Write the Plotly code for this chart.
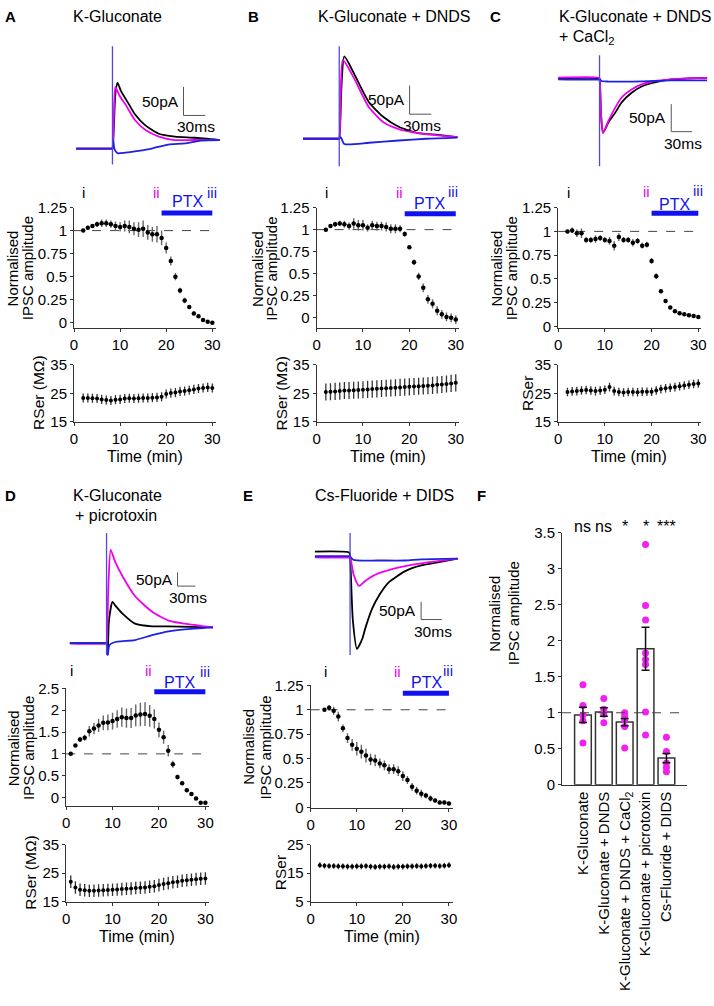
import plotly.graph_objects as go

# ====================== DATA ======================
# Example IPSC traces: time (ms, relative to stimulus) and current (pA)
A_black_t = [-50, -1, 0, 2, 4, 7, 12, 23, 31, 45, 64, 86, 113, 148]
A_black_i = [0, 0, 0, 40, 95, 115, 100, 77, 60, 41, 26, 21, 19, 15]
A_mag_t = [-50, -1, 0, 2, 4, 10, 18, 31, 45, 64, 86, 113, 148]
A_mag_i = [0, 0, 0, 60, 108, 92, 77, 50, 33, 21, 15, 15, 15]
A_blue_t = [-50, -1, 0, 1, 3, 7, 18, 31, 54, 77, 100, 122, 148]
A_blue_i = [0, 0, 0, 15, -2, -8, -7, -5, 0, 7, 9, 14, 15]
A_stim = [-28, 179]

B_black_t = [-50, -1, 0, 3, 7, 20, 41, 61, 82, 109, 136, 163]
B_black_i = [0, 0, 0, 90, 144, 115, 64, 38, 21, 10, 7, 3]
B_mag_t = [-50, -1, 0, 2, 5, 20, 41, 61, 82, 109, 136, 163]
B_mag_i = [0, 0, 0, 80, 138, 107, 55, 29, 17, 10, 6, 3]
B_blue_t = [-50, -1, 0, 2, 7, 41, 82, 120, 163]
B_blue_i = [0, 0, 0, 3, -9, -7, -3, 0, 2]
B_stim = [-48, 162]

C_black_t = [-60, -1, 0, 2, 5, 13, 23, 32, 47, 61, 80, 104, 128, 156]
C_black_i = [1, 1, 0, -60, -98, -79, -61, -43, -25, -14, -6.5, -1, 0.6, 1.8]
C_mag_t = [-60, -1, 0, 2, 5, 13, 23, 32, 47, 61, 80, 104, 128, 156]
C_mag_i = [2, 2, 0, -60, -98, -76, -52, -34, -19, -10, -4, -1, 0.6, 1.8]
C_blue_t = [-60, -1, 0, 3, 13, 47, 80, 104, 156]
C_blue_i = [-1, -1, 0, -4, -5, -5, -4, -3, -3]
C_stim = [-159, 43]

D_black_t = [-62, -1, 0, 2, 4, 10, 15, 27, 48, 77, 105, 180]
D_black_i = [0, 0, 0, -43, 80, 150, 136, 107, 71, 61, 61, 57]
D_mag_t = [-62, -1, 0, 3, 7, 15, 27, 48, 77, 105, 132, 180]
D_mag_i = [-2, -2, 0, 200, 339, 293, 243, 171, 114, 82, 71, 57]
D_blue_t = [-62, -1, 0, 2, 5, 15, 27, 48, 77, 105, 132, 180]
D_blue_i = [0, 0, 0, -43, -7, 4, 7, 11, 29, 43, 50, 57]
D_stim = [-43, 400]

E_black_t = [-51, -1, 0, 4, 10, 18, 22, 32, 42, 56, 80, 103, 127, 156]
E_black_i = [14, 11, 0, -180, -261, -231, -203, -147, -110, -73, -41, -25, -16, -6]
E_mag_t = [-51, -1, 0, 5, 13, 22, 32, 42, 56, 80, 103, 127, 156]
E_mag_i = [-2, -2, 0, -50, -83, -69, -56, -47, -38, -27, -19, -13, -6]
E_blue_t = [-51, -1, 0, 4, 10, 40, 80, 103, 156]
E_blue_i = [1, 1, 0, -8, -11, -11, -11, -8, -6]
E_stim = [-278, 67]

# Normalised IPSC amplitude time courses (min)
A_time = list(range(2, 31))
A_norm = [1.00, 1.03, 1.05, 1.07, 1.08, 1.08, 1.07, 1.05, 1.04, 1.05, 1.04, 1.02, 1.01, 1.02, 0.98,
          0.96, 0.96, 0.92, 0.81, 0.67, 0.50, 0.35, 0.24, 0.17, 0.10, 0.07, 0.03, 0.01, 0.00]
A_norm_err = [0.00, 0.02, 0.02, 0.03, 0.04, 0.04, 0.04, 0.05, 0.05, 0.06, 0.07, 0.07, 0.08, 0.09, 0.08,
              0.08, 0.09, 0.08, 0.06, 0.05, 0.04, 0.03, 0.03, 0.02, 0.02, 0.01, 0.01, 0.01, 0.01]
B_time = list(range(2, 31))
B_norm = [1.00, 1.04, 1.06, 1.07, 1.06, 1.04, 1.07, 1.05, 1.05, 1.02, 1.05, 1.04, 1.04, 1.03, 1.01,
          1.01, 1.01, 0.95, 0.80, 0.63, 0.47, 0.34, 0.21, 0.16, 0.08, 0.04, 0.01, 0.00, -0.02]
B_norm_err = [0.00, 0.02, 0.03, 0.03, 0.04, 0.04, 0.06, 0.06, 0.06, 0.04, 0.05, 0.05, 0.05, 0.05, 0.05,
              0.05, 0.04, 0.03, 0.02, 0.03, 0.04, 0.05, 0.05, 0.05, 0.05, 0.05, 0.05, 0.05, 0.05]
C_time = list(range(2, 31))
C_norm = [1.00, 1.01, 0.98, 0.98, 0.91, 0.91, 0.92, 0.93, 0.91, 0.90, 0.85, 0.94, 0.91, 0.91, 0.88,
          0.90, 0.85, 0.86, 0.69, 0.53, 0.37, 0.27, 0.20, 0.16, 0.14, 0.13, 0.12, 0.11, 0.10]
C_norm_err = [0.00, 0.03, 0.04, 0.05, 0.03, 0.03, 0.04, 0.03, 0.03, 0.04, 0.05, 0.04, 0.03, 0.03, 0.04,
              0.03, 0.03, 0.03, 0.03, 0.03, 0.02, 0.02, 0.01, 0.01, 0.01, 0.01, 0.01, 0.01, 0.01]
D_time = list(range(1, 31))
D_norm = [1.00, 1.19, 1.33, 1.37, 1.52, 1.58, 1.65, 1.71, 1.72, 1.75, 1.80, 1.84, 1.82, 1.82, 1.88,
          1.90, 1.91, 1.87, 1.80, 1.55, 1.38, 1.07, 0.76, 0.47, 0.33, 0.17, 0.08, -0.02, -0.12, -0.12]
D_norm_err = [0.00, 0.03, 0.06, 0.07, 0.12, 0.13, 0.15, 0.17, 0.18, 0.19, 0.20, 0.22, 0.22, 0.23, 0.25,
              0.27, 0.27, 0.25, 0.22, 0.17, 0.15, 0.13, 0.08, 0.05, 0.04, 0.03, 0.02, 0.02, 0.03, 0.03]
E_time = list(range(3, 31))
E_norm = [1.00, 1.02, 0.99, 0.93, 0.81, 0.71, 0.64, 0.60, 0.57, 0.53, 0.49, 0.48, 0.45, 0.43, 0.39,
          0.39, 0.37, 0.32, 0.28, 0.21, 0.17, 0.14, 0.12, 0.09, 0.07, 0.05, 0.05, 0.04]
E_norm_err = [0.00, 0.03, 0.04, 0.05, 0.04, 0.05, 0.06, 0.07, 0.07, 0.07, 0.06, 0.06, 0.05, 0.05, 0.05,
              0.05, 0.05, 0.05, 0.04, 0.04, 0.04, 0.04, 0.03, 0.03, 0.02, 0.02, 0.02, 0.02]

# Series resistance (MOhm)
A_rs_time = list(range(2, 31))
A_rser = [23.4, 23.4, 23.3, 23.2, 22.9, 22.7, 22.5, 22.8, 22.9, 23.2, 23.3, 23.2, 23.3, 23.4, 23.4,
          23.5, 23.6, 23.8, 24.8, 25.1, 25.3, 25.7, 25.8, 26.1, 26.4, 26.7, 26.9, 27.1, 26.9]
A_rser_err = [1.6] * 29
B_rs_time = list(range(2, 31))
B_rser = [25.5, 25.6, 25.7, 25.8, 26.0, 26.0, 26.1, 26.2, 26.3, 26.4, 26.5, 26.6, 26.7, 26.8, 26.9,
          27.0, 27.1, 27.2, 27.3, 27.4, 27.5, 27.6, 27.7, 27.8, 28.0, 28.1, 28.3, 28.5, 28.7]
B_rser_err = [3.0] * 29
C_rs_time = list(range(2, 31))
C_rser = [25.5, 25.7, 25.8, 26.0, 26.2, 26.0, 25.8, 26.0, 26.3, 27.2, 25.8, 25.5, 25.3, 25.5, 25.5,
          25.4, 25.6, 25.6, 25.6, 26.0, 26.5, 26.8, 27.0, 27.2, 27.5, 27.8, 28.0, 28.3, 28.5]
C_rser_err = [1.5] * 29
D_rs_time = list(range(1, 31))
D_rser = [22.0, 20.0, 19.2, 19.0, 18.8, 18.8, 18.9, 19.0, 19.1, 19.2, 19.3, 19.4, 19.5, 19.6, 19.8,
          19.9, 20.0, 20.2, 20.4, 20.8, 21.2, 21.5, 21.8, 22.0, 22.3, 22.5, 22.7, 22.9, 23.0, 23.1]
D_rser_err = [2.2] * 30
E_rs_time = list(range(2, 31))
E_rser = [17.8, 17.6, 17.5, 17.5, 17.4, 17.4, 17.3, 17.3, 17.4, 17.4, 17.5, 17.3, 17.2, 17.3, 17.3,
          17.4, 17.2, 17.3, 17.3, 17.4, 17.4, 17.5, 17.4, 17.5, 17.6, 17.6, 17.5, 17.6, 17.8]
E_rser_err = [1.0] * 29

# Panel F summary
F_categories = ["K-Gluconate", "K-Gluconate + DNDS", "K-Gluconate + DNDS + CaCl<sub>2</sub>",
                "K-Gluconate + picrotoxin", "Cs-Fluoride + DIDS"]
F_mean = [0.97, 1.01, 0.87, 1.89, 0.37]
F_sem = [0.105, 0.06, 0.05, 0.30, 0.065]
F_cells = [
    [1.39, 1.10, 0.97, 0.89, 0.58],
    [1.20, 1.05, 0.98, 0.86],
    [1.00, 0.96, 0.90, 0.81, 0.51],
    [3.34, 2.49, 2.29, 1.83, 1.74, 1.67, 1.01, 0.69],
    [0.66, 0.46, 0.30, 0.24, 0.18],
]
F_sig = ["ns", "ns", "*", "*", "***"]

# ====================== STYLE / LAYOUT ======================
W, H = 714, 1006
FONT = "Liberation Sans, Arial, sans-serif"
C_BLACK = "#000000"
C_MAG = "#f000f0"
C_BLUE = "#2020e0"
C_STIM = "#5548d8"
C_PTX = "#1010f0"
AX = "#333333"

fig = go.Figure()
layout = dict(width=W, height=H, margin=dict(l=0, r=0, t=0, b=0, pad=0),
              paper_bgcolor="white", plot_bgcolor="rgba(0,0,0,0)", showlegend=False,
              font=dict(family=FONT, size=15, color="black"))
annotations = []
shapes = []
_n = [0]


def new_axes(xpx, ypx, xr, yr, xo=None, yo=None):
    _n[0] += 1
    s = "" if _n[0] == 1 else str(_n[0])
    xa = dict(domain=[xpx[0] / W, xpx[1] / W], range=xr, anchor="y" + s,
              showgrid=False, zeroline=False, fixedrange=True)
    ya = dict(domain=[1 - ypx[1] / H, 1 - ypx[0] / H], range=yr, anchor="x" + s,
              showgrid=False, zeroline=False, fixedrange=True)
    xa.update(xo or {})
    ya.update(yo or {})
    layout["xaxis" + s] = xa
    layout["yaxis" + s] = ya
    return "x" + s, "y" + s


HIDDEN = dict(visible=False)


def ann(text, x, y, size=15, color="black", angle=0, xanchor="center", yanchor="middle", bold=False):
    if bold:
        text = "<b>" + text + "</b>"
    annotations.append(dict(text=text, x=x / W, y=1 - y / H, xref="paper", yref="paper",
                            showarrow=False, textangle=angle, xanchor=xanchor, yanchor=yanchor,
                            font=dict(size=size, color=color, family=FONT)))


def axis_style(tickvals, ticktext=None):
    d = dict(showline=True, linecolor=AX, linewidth=1, ticks="outside", ticklen=3,
             tickcolor=AX, tickwidth=1, tickvals=tickvals, tickfont=dict(size=15, family=FONT))
    if ticktext is not None:
        d["ticktext"] = ticktext
    return d


# ---------- example trace panels ----------
TRACE_GEO = {
    "A": dict(l=73, r=222, t=30, b=165, stim=110, base=142, ms=1.36, pa=1.72, bar=(98, 58)),
    "B": dict(l=303, r=465, t=30, b=165, stim=340, base=132, ms=1.36, pa=1.72, bar=(97, 43)),
    "C": dict(l=560, r=714, t=40, b=165, stim=604, base=71, ms=1.43, pa=1.786, bar=(104, -96)),
    "D": dict(l=64, r=214, t=525, b=662, stim=104, base=645, ms=3.0 / 1.8, pa=50 / 14.0, bar=(120, 207)),
    "E": dict(l=313, r=462, t=525, b=662, stim=351, base=557, ms=1.43, pa=2.78, bar=(103, -178)),
}
TRACE_DATA = {
    "A": (A_black_t, A_black_i, A_mag_t, A_mag_i, A_blue_t, A_blue_i, A_stim),
    "B": (B_black_t, B_black_i, B_mag_t, B_mag_i, B_blue_t, B_blue_i, B_stim),
    "C": (C_black_t, C_black_i, C_mag_t, C_mag_i, C_blue_t, C_blue_i, C_stim),
    "D": (D_black_t, D_black_i, D_mag_t, D_mag_i, D_blue_t, D_blue_i, D_stim),
    "E": (E_black_t, E_black_i, E_mag_t, E_mag_i, E_blue_t, E_blue_i, E_stim),
}

for key, g in TRACE_GEO.items():
    bt, bi, mt, mi, ut, ui, st = TRACE_DATA[key]
    xr = [(g["l"] - g["stim"]) * g["ms"], (g["r"] - g["stim"]) * g["ms"]]
    yr = [(g["base"] - g["b"]) * g["pa"], (g["base"] - g["t"]) * g["pa"]]
    xa, ya = new_axes((g["l"], g["r"]), (g["t"], g["b"]), xr, yr, HIDDEN, HIDDEN)
    for tt, ii, col in ((bt, bi, C_BLACK), (mt, mi, C_MAG), (ut, ui, C_BLUE)):
        fig.add_trace(go.Scatter(x=tt, y=ii, mode="lines", xaxis=xa, yaxis=ya, hoverinfo="skip",
                                 line=dict(color=col, width=1.8, shape="spline", smoothing=0.6)))
    fig.add_trace(go.Scatter(x=[0, 0], y=st, mode="lines", xaxis=xa, yaxis=ya, hoverinfo="skip",
                             line=dict(color=C_STIM, width=1.3)))
    bx, by = g["bar"]
    fig.add_trace(go.Scatter(x=[bx, bx, bx + 30], y=[by + 50, by, by], mode="lines", xaxis=xa, yaxis=ya,
                             hoverinfo="skip", line=dict(color="#555555", width=1)))
    annotations.append(dict(text="50pA", x=bx, y=by + 25, xref=xa, yref=ya, showarrow=False,
                            xanchor="right", yanchor="middle", xshift=-3,
                            font=dict(size=15.5, family=FONT, color="black")))
    annotations.append(dict(text="30ms", x=bx + 17, y=by, xref=xa, yref=ya, showarrow=False,
                            xanchor="center", yanchor="top", yshift=-1,
                            font=dict(size=15.5, family=FONT, color="black")))

# ---------- normalised amplitude panels ----------
NORM_GEO = {
    "A": dict(x=(71, 215), y=(202, 324), xr=[0, 30.8], yr=[-0.053, 1.25], ptx=(19, 30), ptx_y=1.19,
              lab=dict(i=(81, 187), ii=(155, 187), iii=(211, 187), PTX=(186, 196)), yl=(9, 24, 264)),
    "B": dict(x=(317, 461), y=(202, 324), xr=[0, 30.6], yr=[-0.11, 1.25], ptx=(19, 30), ptx_y=1.18,
              lab=dict(i=(327, 187), ii=(401, 187), iii=(455, 186), PTX=(432, 198)), yl=(257, 271, 264)),
    "C": dict(x=(562, 707), y=(202, 324), xr=[0, 30.6], yr=[-0.01, 1.25], ptx=(20, 30), ptx_y=1.19,
              lab=dict(i=(573, 187), ii=(652, 186), iii=(704, 185), PTX=(680, 199)), yl=(500, 515, 264)),
    "D": dict(x=(63, 208), y=(691, 811), xr=[0, 30.8], yr=[-0.2, 2.5], ptx=(19, 30), ptx_y=2.42,
              lab=dict(i=(68, 673), ii=(147, 673), iii=(204, 674), PTX=(178, 685)), yl=(9, 25, 752)),
    "E": dict(x=(311, 455), y=(688, 813), xr=[0, 30.8], yr=[-0.01, 1.25], ptx=(20, 30), ptx_y=1.17,
              lab=dict(i=(326, 674), ii=(399, 674), iii=(450, 673), PTX=(428, 685)), yl=(248, 265, 751)),
}
NORM_DATA = {
    "A": (A_time, A_norm, A_norm_err, [0, 0.25, 0.5, 0.75, 1, 1.25]),
    "B": (B_time, B_norm, B_norm_err, [0, 0.25, 0.5, 0.75, 1, 1.25]),
    "C": (C_time, C_norm, C_norm_err, [0, 0.25, 0.5, 0.75, 1, 1.25]),
    "D": (D_time, D_norm, D_norm_err, [0, 0.5, 1, 1.5, 2, 2.5]),
    "E": (E_time, E_norm, E_norm_err, [0, 0.25, 0.5, 0.75, 1, 1.25]),
}
for key, g in NORM_GEO.items():
    tt, vv, ee, yt = NORM_DATA[key]
    xa, ya = new_axes(g["x"], g["y"], g["xr"], g["yr"],
                      axis_style([0, 10, 20, 30]), axis_style(yt, [("%g" % v) for v in yt]))
    shapes.append(dict(type="line", xref=xa + " domain", yref=ya, x0=0, x1=1, y0=1, y1=1,
                       line=dict(color="#444444", width=1, dash="dash"), layer="below"))
    fig.add_trace(go.Scatter(x=list(g["ptx"]), y=[g["ptx_y"]] * 2, mode="lines", xaxis=xa, yaxis=ya,
                             hoverinfo="skip", cliponaxis=False, line=dict(color=C_PTX, width=5)))
    fig.add_trace(go.Scatter(x=tt, y=vv, mode="markers", xaxis=xa, yaxis=ya, cliponaxis=False,
                             marker=dict(color="black", size=4.5),
                             error_y=dict(type="data", array=ee, color="#666666", thickness=1.4, width=0)))
    lab = g["lab"]
    ann("i", *lab["i"], size=15)
    ann("ii", *lab["ii"], size=15, color=C_MAG)
    ann("iii", *lab["iii"], size=15, color=C_BLUE)
    ann("PTX", *lab["PTX"], size=16, color=C_PTX)
    x1, x2, yc = g["yl"]
    ann("Normalised", x1, yc, angle=-90)
    ann("IPSC amplitude", x2, yc, angle=-90)

# ---------- series resistance panels ----------
RS_GEO = {
    "A": dict(x=(71, 215), y=(362, 420), xr=[0, 30.8], yr=[15, 35], yt=[15, 25, 35],
              lab=("RSer (M\u03a9)", 35, 391), tl=(143, 455)),
    "B": dict(x=(317, 461), y=(362, 420), xr=[0, 30.6], yr=[15, 35], yt=[15, 25, 35],
              lab=("RSer (M\u03a9)", 281, 391), tl=(389, 455)),
    "C": dict(x=(562, 707), y=(362, 420), xr=[0, 30.6], yr=[15, 35], yt=[15, 25, 35],
              lab=("RSer", 531, 391), tl=(634, 455)),
    "D": dict(x=(63, 208), y=(850, 908), xr=[0, 30.8], yr=[15, 35], yt=[15, 25, 35],
              lab=("RSer (M\u03a9)", 27, 879), tl=(135, 943)),
    "E": dict(x=(311, 455), y=(850, 908), xr=[0, 30.8], yr=[5, 25], yt=[5, 15, 25],
              lab=("RSer", 280, 879), tl=(383, 943)),
}
RS_DATA = {
    "A": (A_rs_time, A_rser, A_rser_err),
    "B": (B_rs_time, B_rser, B_rser_err),
    "C": (C_rs_time, C_rser, C_rser_err),
    "D": (D_rs_time, D_rser, D_rser_err),
    "E": (E_rs_time, E_rser, E_rser_err),
}
for key, g in RS_GEO.items():
    tt, vv, ee = RS_DATA[key]
    xa, ya = new_axes(g["x"], g["y"], g["xr"], g["yr"], axis_style([0, 10, 20, 30]), axis_style(g["yt"]))
    fig.add_trace(go.Scatter(x=tt, y=vv, mode="markers", xaxis=xa, yaxis=ya, cliponaxis=False,
                             marker=dict(color="black", size=4),
                             error_y=dict(type="data", array=ee, color="#333333", thickness=1.3, width=0)))
    txt, lx, ly = g["lab"]
    ann(txt, lx, ly, angle=-90, size=15.5)
    ann("Time (min)", *g["tl"], size=16)

# ---------- panel F ----------
fx = list(range(len(F_categories)))
xa, ya = new_axes((566, 693), (533, 789), [-1, 5], [0, 3.5],
                  dict(showline=True, linecolor=AX, linewidth=1, ticks="", tickvals=fx,
                       ticktext=F_categories, tickangle=-90, tickfont=dict(size=15, family=FONT)),
                  axis_style([0, 0.5, 1, 1.5, 2, 2.5, 3, 3.5], ["0", "0.5", "1", "1.5", "2", "2.5", "3", "3.5"]))
fig.add_trace(go.Bar(x=fx, y=F_mean, width=0.8, xaxis=xa, yaxis=ya,
                     marker=dict(color="white", line=dict(color="#333333", width=1.5))))
shapes.append(dict(type="line", xref=xa + " domain", yref=ya, x0=0, x1=1, y0=1, y1=1,
                   line=dict(color="#444444", width=1, dash="dash"), layer="above"))
for i, cells in enumerate(F_cells):
    fig.add_trace(go.Scatter(x=[i] * len(cells), y=cells, mode="markers", xaxis=xa, yaxis=ya,
                             cliponaxis=False, marker=dict(color="#f020f0", size=7)))
fig.add_trace(go.Scatter(x=fx, y=F_mean, mode="markers", xaxis=xa, yaxis=ya,
                         marker=dict(color="rgba(0,0,0,0)", size=1),
                         error_y=dict(type="data", array=F_sem, color="#111111", thickness=1.5, width=4)))
for i, s in enumerate(F_sig):
    annotations.append(dict(text=s, x=i, y=1 - 526 / H, xref=xa, yref="paper", showarrow=False,
                            xanchor="center", yanchor="middle",
                            font=dict(size=16, family=FONT, color="black")))
ann("Normalised", 498, 615, angle=-90)
ann("IPSC amplitude", 517, 615, angle=-90)

# ---------- panel titles ----------
ann("A", 7, 8, size=15, bold=True)
ann("K-Gluconate", 68, 8, size=16, xanchor="left")
ann("B", 253, 8, size=15, bold=True)
ann("K-Gluconate + DNDS", 316, 8, size=16, xanchor="left")
ann("C", 498, 8, size=15, bold=True)
ann("K-Gluconate + DNDS", 561, 8, size=16, xanchor="left")
ann("+ CaCl<sub>2</sub>", 561, 29, size=16, xanchor="left")
ann("D", 7, 495, size=15, bold=True)
ann("K-Gluconate", 68, 495, size=16, xanchor="left")
ann("+ picrotoxin", 70, 515, size=16, xanchor="left")
ann("E", 247, 495, size=15, bold=True)
ann("Cs-Fluoride + DIDS", 313, 495, size=16, xanchor="left")
ann("F", 484, 495, size=15, bold=True)

layout["annotations"] = annotations
layout["shapes"] = shapes
fig.update_layout(**layout)
fig.write_html("out.html", config={"displayModeBar": False},
               post_script="document.body.style.margin='0';document.body.style.padding='0';")
